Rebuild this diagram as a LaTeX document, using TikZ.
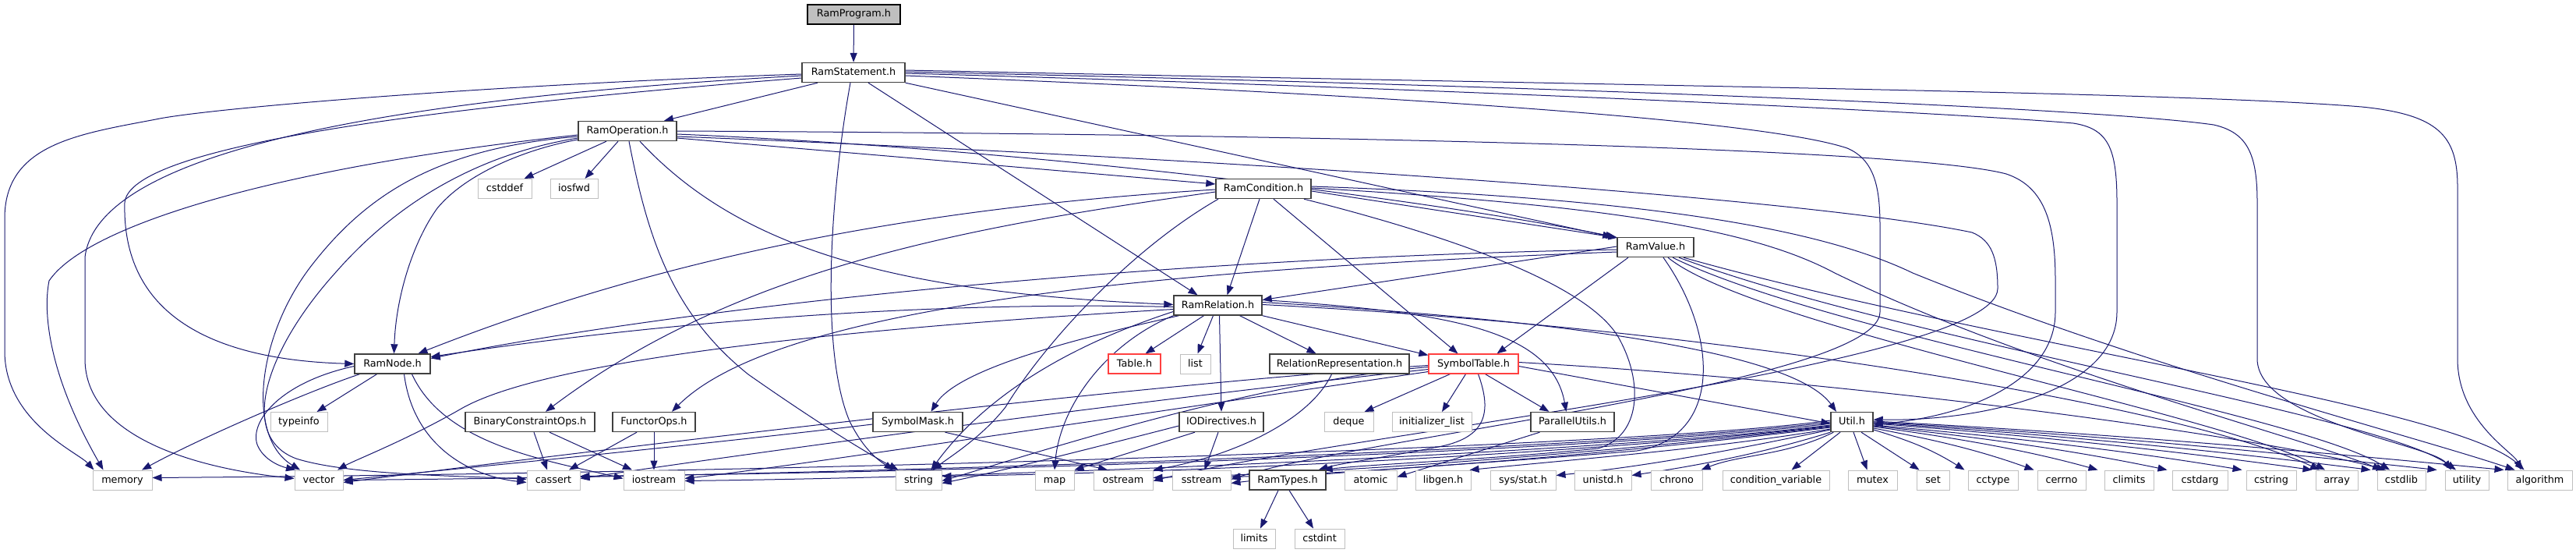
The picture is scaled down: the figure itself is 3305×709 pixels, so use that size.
\documentclass[tikz,border=0pt]{standalone}
\usepackage{fontspec}
\setmainfont{DejaVu Sans}
\usetikzlibrary{arrows.meta}
\definecolor{edgec}{HTML}{191970}
\definecolor{extc}{HTML}{BFBFBF}
\definecolor{locc}{HTML}{404040}
\definecolor{redc}{HTML}{FF4040}
\definecolor{topfill}{HTML}{BFBFBF}
\pgfdeclarelayer{bg}
\pgfsetlayers{bg,main}
\begin{document}
\begin{tikzpicture}[x=1pt,y=-1pt,
  box/.style={rectangle, inner sep=0pt, minimum height=25pt, text height=9.6pt, text depth=2.6pt, fill=white, font=\fontsize{12.8pt}{15pt}\selectfont, text=black},
  ext/.style={box, draw=extc, line width=1pt},
  loc/.style={box, draw=locc, line width=1.4pt},
  redbox/.style={box, draw=redc, line width=1.2pt},
  topn/.style={box, draw=black, line width=1.2pt, fill=topfill},
  lnk/.style={draw=edgec, line width=1pt, -{Triangle[length=12pt,width=9pt]}},
]
\useasboundingbox (0,0) rectangle (3305,709);

% ---------- nodes ----------
\node[topn, minimum width=119] (prog) at (1095.5,18.5) {RamProgram.h};
\node[loc, minimum width=132] (stmt) at (1095,93) {RamStatement.h};
\node[loc, minimum width=126] (op) at (805,168) {RamOperation.h};
\node[ext, minimum width=69] (cstddef) at (647.5,242) {cstddef};
\node[ext, minimum width=61] (iosfwd) at (736.5,242) {iosfwd};
\node[loc, minimum width=122] (cond) at (1621,242) {RamCondition.h};
\node[loc, minimum width=98] (val) at (2124,317) {RamValue.h};
\node[loc, minimum width=113] (rel) at (1562.5,391.5) {RamRelation.h};
\node[loc, minimum width=97] (ramnode) at (503.5,466.5) {RamNode.h};
\node[redbox, minimum width=67] (table) at (1455.5,466.5) {Table.h};
\node[ext, minimum width=39] (list) at (1533.5,466.5) {list};
\node[loc, minimum width=179] (relrep) at (1718.5,466.5) {RelationRepresentation.h};
\node[redbox, minimum width=115] (symtab) at (1890.5,466.5) {SymbolTable.h};
\node[ext, minimum width=73] (typeinfo) at (383.5,541) {typeinfo};
\node[loc, minimum width=166] (bco) at (680,541) {BinaryConstraintOps.h};
\node[loc, minimum width=106] (functor) at (839,541) {FunctorOps.h};
\node[loc, minimum width=115] (symmask) at (1177.5,541) {SymbolMask.h};
\node[loc, minimum width=108] (iodir) at (1567,541) {IODirectives.h};
\node[ext, minimum width=63] (deque) at (1730.5,541) {deque};
\node[ext, minimum width=102] (initlist) at (1837,541) {initializer\_list};
\node[loc, minimum width=107] (parallel) at (2017.5,541) {ParallelUtils.h};
\node[loc, minimum width=54] (utilh) at (2376,541) {Util.h};
% bottom row
\node[ext, minimum width=76] (memory) at (157,615.5) {memory};
\node[ext, minimum width=62] (vector) at (409,615.5) {vector};
\node[ext, minimum width=68] (cassert) at (710,615.5) {cassert};
\node[ext, minimum width=78] (iostream) at (839,615.5) {iostream};
\node[ext, minimum width=59] (string) at (1178.5,615.5) {string};
\node[ext, minimum width=50] (map) at (1353,615.5) {map};
\node[ext, minimum width=76] (ostream) at (1441,615.5) {ostream};
\node[ext, minimum width=75] (sstream) at (1541.5,615.5) {sstream};
\node[loc, minimum width=98] (ramtypes) at (1652,615.5) {RamTypes.h};
\node[ext, minimum width=67] (atomic) at (1758.5,615.5) {atomic};
\node[ext, minimum width=71] (libgen) at (1851.5,615.5) {libgen.h};
\node[ext, minimum width=84] (sysstat) at (1954,615.5) {sys/stat.h};
\node[ext, minimum width=73] (unistd) at (2056.5,615.5) {unistd.h};
\node[ext, minimum width=66] (chrono) at (2151,615.5) {chrono};
\node[ext, minimum width=137] (condvar) at (2278.5,615.5) {condition\_variable};
\node[ext, minimum width=63] (mutex) at (2402.5,615.5) {mutex};
\node[ext, minimum width=42] (set) at (2480,615.5) {set};
\node[ext, minimum width=64] (cctype) at (2557,615.5) {cctype};
\node[ext, minimum width=62] (cerrno) at (2645,615.5) {cerrno};
\node[ext, minimum width=63] (climits) at (2731.5,615.5) {climits};
\node[ext, minimum width=71] (cstdarg) at (2822.5,615.5) {cstdarg};
\node[ext, minimum width=64] (cstring) at (2914,615.5) {cstring};
\node[ext, minimum width=54] (array) at (2998,615.5) {array};
\node[ext, minimum width=62] (cstdlib) at (3081,615.5) {cstdlib};
\node[ext, minimum width=56] (utility) at (3165,615.5) {utility};
\node[ext, minimum width=83] (alg) at (3258.5,615.5) {algorithm};
\node[ext, minimum width=54] (limits) at (1609,690.5) {limits};
\node[ext, minimum width=64] (cstdint) at (1693,690.5) {cstdint};

\begin{pgfonlayer}{bg}
\fill[white] (0,0) rectangle (3305,709);
% RamProgram
\draw[lnk] (prog) -- (stmt);
% RamStatement
\draw[lnk] ([xshift=-46]stmt.south) -- ([xshift=47]op.north);
\draw[lnk] ([yshift=-2]stmt.west) .. controls (600,110) and (260,140) .. (200,153) .. controls (100,172) and (6,185) .. (6,280) -- (6,450) .. controls (6,540) and (100,580) .. ([xshift=2]memory.north west);
\draw[lnk] ([yshift=-4]stmt.west) .. controls (520,125) and (125,190) .. (109,330) -- (109,460) .. controls (109,560) and (250,600) .. ([yshift=2]vector.west);
\draw[lnk] ([yshift=-7]stmt.west) .. controls (520,140) and (165,190) .. (160,260) .. controls (156,420) and (300,462) .. (ramnode.west);
\draw[lnk] ([xshift=-4]stmt.south) .. controls (1065,250) and (1052,450) .. (1090,540) .. controls (1110,580) and (1130,592) .. ([xshift=-2]string.north west);
\draw[lnk] ([xshift=19]stmt.south) -- ([xshift=-26]rel.north);
\draw[lnk] (stmt.south east) -- ([xshift=-6]val.north west);
\draw[lnk] ([yshift=3]stmt.east) .. controls (2100,110) and (2800,118) .. (3030,137) .. controls (3130,147) and (3153,175) .. (3153,240) -- (3153,460) .. controls (3153,540) and (3225,580) .. ([xshift=-24]alg.north);
\draw[lnk] ([yshift=1]stmt.east) .. controls (2100,113) and (2700,140) .. (2840,160) .. controls (2885,170) and (2896,200) .. (2896,260) -- (2896,460) .. controls (2896,540) and (3120,570) .. ([xshift=-20]utility.north);
\draw[lnk] ([yshift=-1]stmt.east) .. controls (2000,118) and (2550,148) .. (2660,158) .. controls (2705,165) and (2716,190) .. (2716,260) -- (2716,400) .. controls (2716,500) and (2550,540) .. ([yshift=3]utilh.east);
\draw[lnk] ([yshift=-4]stmt.east) .. controls (1700,118) and (2250,150) .. (2370,190) .. controls (2405,205) and (2412,240) .. (2412,290) -- (2412,400) .. controls (2412,490) and (1750,560) .. ([yshift=1]sstream.east);
% RamOperation
\draw[lnk] ([xshift=-27]op.south) -- ([xshift=25]cstddef.north);
\draw[lnk] ([xshift=-12]op.south) -- ([xshift=14]iosfwd.north);
\draw[lnk] ([yshift=-5]op.west) .. controls (350,215) and (110,290) .. (63,360) .. controls (55,400) and (62,480) .. ([xshift=14]memory.north west);
\draw[lnk] ([yshift=-7]op.west) .. controls (560,190) and (470,250) .. (400,340) .. controls (330,430) and (315,560) .. ([xshift=-24]vector.north);
\draw[lnk] ([yshift=-9]op.west) .. controls (600,200) and (500,270) .. (430,350) .. controls (340,450) and (305,560) .. (380,588) .. controls (450,610) and (600,610) .. ([yshift=1]cassert.west);
\draw[lnk] ([yshift=-11]op.west) .. controls (680,190) and (600,220) .. (561,267) .. controls (530,310) and (508,380) .. ([xshift=2]ramnode.north);
\draw[lnk] ([xshift=2]op.south) .. controls (830,300) and (860,400) .. (960,480) .. controls (1060,550) and (1120,585) .. ([xshift=4]string.north west);
\draw[lnk] ([xshift=16]op.south) .. controls (950,320) and (1150,375) .. ([yshift=1]rel.west);
\draw[lnk] ([yshift=-9]op.east) -- ([yshift=6]cond.west);
\draw[lnk] ([yshift=-4]op.east) .. controls (1300,190) and (1800,250) .. ([xshift=-2]val.north west);
\draw[lnk] ([yshift=0]op.east) .. controls (1700,172) and (2450,190) .. (2574,223) .. controls (2625,240) and (2637,290) .. (2637,360) -- (2637,400) .. controls (2637,490) and (2520,535) .. ([yshift=-3]utilh.east);
\draw[lnk] ([yshift=-7]op.east) .. controls (1500,200) and (2300,250) .. (2530,298) .. controls (2555,308) and (2563,330) .. (2563,370) .. controls (2563,470) and (1700,560) .. ([yshift=-1]ostream.east);
% RamCondition
\draw[lnk] ([yshift=-4]cond.west) .. controls (1250,290) and (950,340) .. ([xshift=20]bco.north);
\draw[lnk] ([yshift=-1]cond.west) .. controls (1250,262) and (900,310) .. ([xshift=33]ramnode.north);
\draw[lnk] ([xshift=-58]cond.south) .. controls (1450,320) and (1340,440) .. (1290,522) .. controls (1260,560) and (1220,585) .. ([xshift=-12]string.north east);
\draw[lnk] ([xshift=-5]cond.south) -- ([xshift=12]rel.north);
\draw[lnk] ([xshift=13]cond.south) -- ([xshift=-20]symtab.north);
\draw[lnk] ([yshift=-3]cond.east) -- ([xshift=1,yshift=-1]val.north west);
\draw[lnk] ([xshift=52]cond.south) .. controls (1850,300) and (2030,360) .. (2075,430) .. controls (2110,490) and (2105,560) .. (2050,575) .. controls (1900,590) and (1760,595) .. ([xshift=-4]ramtypes.north east);
\draw[lnk] ([yshift=1]cond.east) .. controls (2100,265) and (2260,300) .. (2354,350) .. controls (2600,470) and (2950,560) .. ([xshift=-25]cstdlib.north);
\draw[lnk] ([yshift=3]cond.east) .. controls (2150,255) and (2350,300) .. (2454,350) .. controls (2750,470) and (3100,560) .. ([xshift=-32]alg.north);
% RamValue
\draw[lnk] ([yshift=1]val.west) -- ([yshift=7]rel.east);
\draw[lnk] ([yshift=-3]val.west) .. controls (1500,330) and (900,390) .. ([yshift=7]ramnode.east);
\draw[lnk] ([yshift=-6]val.west) .. controls (1500,345) and (1000,390) .. ([xshift=23]functor.north);
\draw[lnk] ([xshift=-35]val.south) -- ([xshift=30]symtab.north);
\draw[lnk] ([xshift=10]val.south) .. controls (2205,430) and (2210,560) .. (2100,578) .. controls (1900,595) and (1700,605) .. ([yshift=-4]sstream.east);
\draw[lnk] ([xshift=16]val.south) .. controls (2250,420) and (2850,530) .. ([xshift=-15]array.north);
\draw[lnk] ([xshift=22]val.south) .. controls (2350,430) and (2950,530) .. ([xshift=-15]cstdlib.north);
\draw[lnk] ([xshift=30]val.south) .. controls (2450,440) and (3050,530) .. ([xshift=-14]utility.north);
\draw[lnk] ([xshift=36]val.south) .. controls (2550,440) and (3150,520) .. ([xshift=-20]alg.north);
% RamRelation
\draw[lnk] ([xshift=-18]rel.south) -- ([xshift=14]table.north);
\draw[lnk] ([xshift=-6]rel.south) -- ([xshift=3]list.north);
\draw[lnk] ([xshift=2]rel.south) -- (iodir.north);
\draw[lnk] ([xshift=28]rel.south) -- ([xshift=-30]relrep.north);
\draw[lnk] (rel.south east) -- ([yshift=-2]symtab.north west);
\draw[lnk] ([xshift=-50]rel.south) .. controls (1400,430) and (1230,470) .. ([xshift=17]symmask.north);
\draw[lnk] (rel.south west) .. controls (1420,440) and (1360,520) .. (map.north);
\draw[lnk] ([yshift=-8]rel.west) .. controls (1350,450) and (1255,520) .. ([xshift=16]string.north);
\draw[lnk] ([yshift=-2]rel.west) .. controls (1150,385) and (800,420) .. ([yshift=9]ramnode.east);
\draw[lnk] ([yshift=-5]rel.west) .. controls (1100,420) and (700,460) .. (590,525) .. controls (520,565) and (455,590) .. ([xshift=24]vector.north);
\draw[lnk] ([yshift=7]rel.east) .. controls (1850,400) and (1990,420) .. ([xshift=-8]parallel.north);
\draw[lnk] ([yshift=4]rel.east) .. controls (2000,410) and (2300,450) .. ([xshift=-20]utilh.north);
\draw[lnk] ([yshift=1]rel.east) .. controls (2200,420) and (2800,520) .. ([xshift=-22]array.north);
% SymbolTable
\draw[lnk] ([xshift=-30]symtab.south) -- ([xshift=20]deque.north);
\draw[lnk] ([xshift=-10]symtab.south) -- ([xshift=13]initlist.north);
\draw[lnk] ([xshift=15]symtab.south) -- ([xshift=-30]parallel.north);
\draw[lnk] ([xshift=6]symtab.south) .. controls (1915,530) and (1905,560) .. (1850,572) .. controls (1780,586) and (1720,594) .. ([xshift=-10]ramtypes.north east);
\draw[lnk] ([yshift=-3]symtab.east) -- ([yshift=-2]utilh.west);
\draw[lnk] ([yshift=2]symtab.east) .. controls (2400,490) and (2900,560) .. ([xshift=-20]cstdlib.north);
\draw[lnk] ([yshift=-4]symtab.west) .. controls (1600,490) and (1300,590) .. ([yshift=-1]string.east);
\draw[lnk] ([yshift=-2]symtab.west) .. controls (1500,490) and (900,560) .. ([yshift=-3]vector.east);
\draw[lnk] ([yshift=-7]symtab.west) .. controls (1400,520) and (900,590) .. ([yshift=2]cassert.east);
\draw[lnk] ([yshift=-10]symtab.west) .. controls (1400,540) and (1000,600) .. ([yshift=2]iostream.east);
% SymbolMask, IODirectives, RelationRepresentation, ParallelUtils
\draw[lnk] ([xshift=35]symmask.south) -- ([xshift=-20]ostream.north);
\draw[lnk] ([yshift=-3]symmask.west) .. controls (900,570) and (600,600) .. (vector.east);
\draw[lnk] ([xshift=-34]iodir.south) -- (map.north east);
\draw[lnk] ([xshift=-4]iodir.south) -- ([xshift=4]sstream.north);
\draw[lnk] ([yshift=-5]iodir.west) .. controls (1380,580) and (1280,605) .. ([yshift=-4]string.east);
\draw[lnk] ([xshift=-10]relrep.south) .. controls (1680,540) and (1580,585) .. (ostream.north east);
\draw[lnk] ([xshift=-42]parallel.south) -- ([yshift=4]atomic.east);
% BinaryConstraintOps, FunctorOps, RamNode, RamTypes
\draw[lnk] ([xshift=5]bco.south) -- ([xshift=-8]cassert.north);
\draw[lnk] ([xshift=25]bco.south) -- ([xshift=-28]iostream.north);
\draw[lnk] ([xshift=-22]functor.south) -- ([xshift=20]cassert.north);
\draw[lnk] (functor.south) -- (iostream.north);
\draw[lnk] ([xshift=-20]ramnode.south) -- ([xshift=23]typeinfo.north);
\draw[lnk] ([xshift=-42]ramnode.south) .. controls (400,500) and (260,560) .. ([xshift=25]memory.north);
\draw[lnk] ([yshift=-3]ramnode.west) .. controls (360,490) and (320,540) .. (330,570) .. controls (338,590) and (360,598) .. ([xshift=-30]vector.north);
\draw[lnk] ([xshift=15]ramnode.south) .. controls (530,570) and (600,610) .. ([yshift=-3]cassert.west);
\draw[lnk] ([xshift=25]ramnode.south) .. controls (570,570) and (700,590) .. ([yshift=2]iostream.west);
\draw[lnk] ([xshift=-12]ramtypes.south) -- ([xshift=8]limits.north);
\draw[lnk] ([xshift=2]ramtypes.south) -- ([xshift=-8]cstdint.north);
% Util.h
\draw[lnk] ([yshift=2]utilh.west) .. controls +(-250,35) and +(800,-6) .. ([yshift=3]memory.east);
\draw[lnk] ([yshift=0]utilh.west) .. controls +(-250,33) and +(700,-6) .. ([yshift=0]vector.east);
\draw[lnk] ([yshift=-2]utilh.west) .. controls +(-250,31) and +(600,-6) .. ([yshift=5]cassert.east);
\draw[lnk] ([yshift=-4]utilh.west) .. controls +(-240,30) and +(500,-6) .. ([yshift=-1]iostream.east);
\draw[lnk] ([yshift=-5]utilh.west) .. controls +(-230,28) and +(400,-6) .. ([yshift=5]string.east);
\draw[lnk] ([yshift=-6]utilh.west) .. controls +(-220,26) and +(300,-8) .. ([yshift=3]ostream.east);
\draw[lnk] ([yshift=-7]utilh.west) .. controls +(-200,25) and +(250,-8) .. ([yshift=4]sstream.east);
\draw[lnk] ([yshift=-9]utilh.west) .. controls +(-150,25) and +(150,-15) .. ([xshift=-2]libgen.north east);
\draw[lnk] ([yshift=-10]utilh.west) .. controls +(-120,25) and +(120,-12) .. ([yshift=6]sysstat.east);
\draw[lnk] (utilh.south west) .. controls +(-90,28) and +(80,-12) .. ([yshift=6]unistd.east);
\draw[lnk] ([xshift=4]utilh.south west) .. controls +(-60,30) and +(50,-20) .. ([xshift=-2]chrono.north east);
\draw[lnk] ([xshift=-15]utilh.south) -- ([xshift=20]condvar.north);
\draw[lnk] ([xshift=2]utilh.south) -- ([xshift=-7]mutex.north);
\draw[lnk] ([xshift=12]utilh.south) -- ([xshift=4]set.north west);
\draw[lnk] ([yshift=-10]utilh.east) .. controls +(50,15) and +(-40,-25) .. ([xshift=-4]cctype.north west);
\draw[lnk] ([yshift=-8]utilh.east) .. controls +(80,15) and +(-70,-25) .. ([xshift=-4]cerrno.north west);
\draw[lnk] ([yshift=-6]utilh.east) .. controls +(110,15) and +(-90,-25) .. ([xshift=-8]climits.north west);
\draw[lnk] ([yshift=-5]utilh.east) .. controls +(140,15) and +(-120,-25) .. ([xshift=-6]cstdarg.north west);
\draw[lnk] ([yshift=-4]utilh.east) .. controls +(170,15) and +(-150,-25) .. ([xshift=-5]cstring.north west);
\draw[lnk] ([yshift=-2]utilh.east) .. controls +(200,15) and +(-180,-25) .. ([xshift=-4]array.north west);
\draw[lnk] ([yshift=-1]utilh.east) .. controls +(230,15) and +(-200,-25) .. ([xshift=-8]cstdlib.north west);
\draw[lnk] ([yshift=0]utilh.east) .. controls +(260,15) and +(-230,-25) .. ([xshift=-10]utility.north west);
\draw[lnk] ([yshift=1]utilh.east) .. controls +(290,15) and +(-260,-25) .. ([xshift=-4]alg.north west);
\end{pgfonlayer}
\end{tikzpicture}
\end{document}
